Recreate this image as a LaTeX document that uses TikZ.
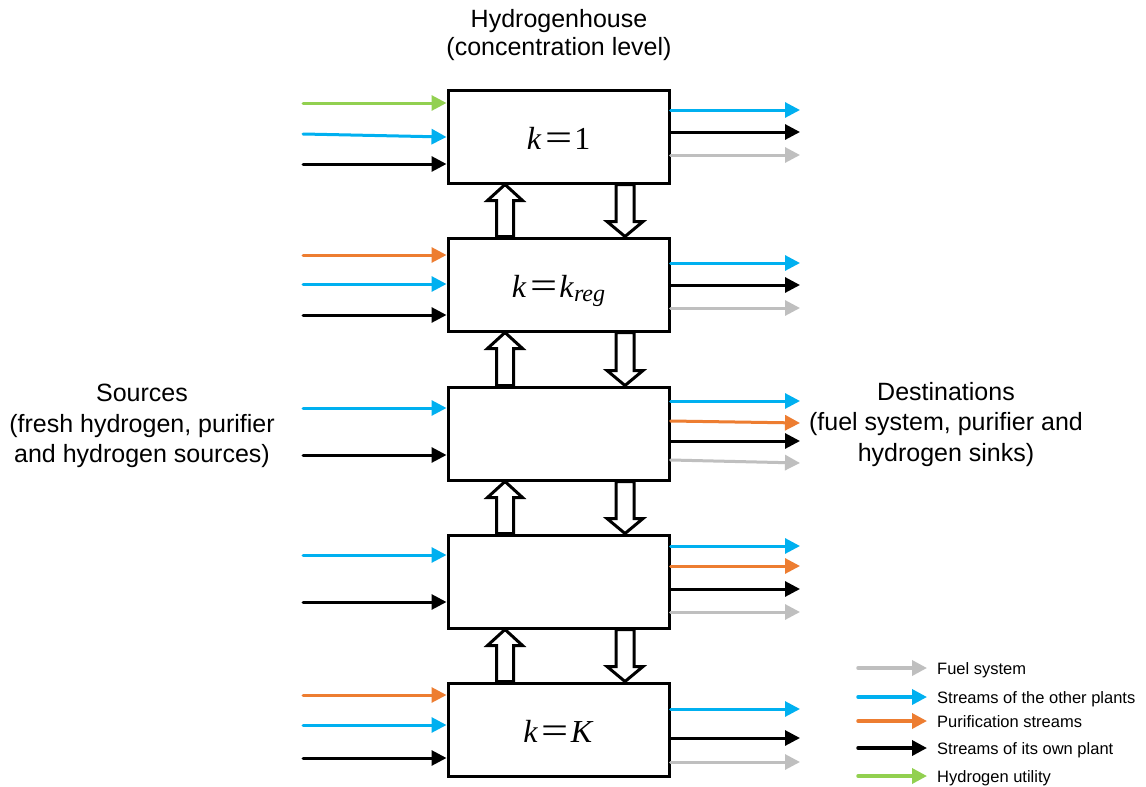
\documentclass[tikz,border=0pt]{standalone}
\usepackage{fontspec}
\usepackage{graphicx}
\setmainfont{Liberation Sans}
\newfontfamily\tnr{Liberation Serif}
\usetikzlibrary{arrows.meta,calc}

\definecolor{hutil}{RGB}{146,208,80}
\definecolor{hother}{RGB}{0,176,240}
\definecolor{hpur}{RGB}{237,125,49}
\definecolor{hfuel}{RGB}{191,191,191}

% incoming stream: colour, level box, y at the source, y at the box
\newcommand\instream[4]{%
  \coordinate (src-#2-#3) at (303,#3);
  \draw[stream,#1] (src-#2-#3) -- (#2.west |- 0,#4);}
% outgoing stream: colour, level box, y at the box, y at the end
\newcommand\outstream[4]{%
  \coordinate (dst-#2-#4) at (800,#4);
  \draw[stream,#1] (#2.east |- 0,#3) -- (dst-#2-#4);}
% hollow transfer arrow going up from the lower box #2 into the upper box #1
\newcommand\transup[2]{%
  \draw[hollow] ($(#1.south)+(-53.5,0)$) -- ($(#1.south)+(-36,16)$)
    -- ($(#1.south)+(-45,16)$) -- ($(#2.north)+(-45,0)$)
    -- ($(#2.north)+(-62,0)$) -- ($(#1.south)+(-62,16)$)
    -- ($(#1.south)+(-71,16)$) -- cycle;}
% hollow transfer arrow going down from the upper box #1 into the lower box #2
\newcommand\transdown[2]{%
  \draw[hollow] ($(#1.south)+(57.5,0)$) -- ($(#1.south)+(75.5,0)$)
    -- ($(#2.north)+(75.5,-15)$) -- ($(#2.north)+(84.5,-15)$)
    -- ($(#2.north)+(66.5,0)$) -- ($(#2.north)+(48.5,-15)$)
    -- ($(#2.north)+(57.5,-15)$) -- cycle;}
% "k =" set like an equation: italic k and a wide equals sign
\newcommand\kk{\textit{k}\hspace{.12em}\raisebox{-1.5pt}{\scalebox{1.5}[1.2]{=}}\hspace{.06em}}

\begin{document}
\begin{tikzpicture}[x=1pt,y=-1pt,
  level/.style={draw,line width=3pt,minimum width=221pt,minimum height=93pt,
    inner sep=0pt,text height=25pt,text depth=0pt,
    font=\tnr\fontsize{32}{32}\selectfont},
  stream/.style={line width=3pt,line cap=round,-{Triangle[length=15pt,width=15pt]}},
  keystream/.style={line width=3.5pt,line cap=round,shorten >=10pt,
    -{Triangle[length=15pt,width=15pt]}},
  hollow/.style={draw=black,fill=white,line width=3pt,line join=miter},
  sidetext/.style={align=center,inner sep=0pt,anchor=north},
  legendtext/.style={anchor=base west,inner sep=0pt,font=\fontsize{16.5}{18}\selectfont}
]
\useasboundingbox[fill=white] (0,0) rectangle (1146,787);

% concentration levels
\node[level] (b1) at (558.5,136.5) {\kk 1};
\node[level] (b2) at (558.5,284.5) {\kk\textit{k}\raisebox{-4pt}{\fontsize{24}{24}\selectfont\textit{reg}}};
\node[level] (b3) at (558.5,433.5) {};
\node[level] (b4) at (558.5,581.5) {};
\node[level] (b5) at (558.5,729.5) {\kk\textit{K}};

% hydrogen transfers between neighbouring levels
\transup{b1}{b2}\transdown{b1}{b2}
\transup{b2}{b3}\transdown{b2}{b3}
\transup{b3}{b4}\transdown{b3}{b4}
\transup{b4}{b5}\transdown{b4}{b5}

% sources
\instream{hutil}{b1}{103}{103}
\instream{hother}{b1}{134}{137}
\instream{black}{b1}{164}{164}
\instream{hpur}{b2}{255}{255}
\instream{hother}{b2}{284}{284}
\instream{black}{b2}{315}{315}
\instream{hother}{b3}{408}{408}
\instream{black}{b3}{455}{455}
\instream{hother}{b4}{555}{555}
\instream{black}{b4}{602}{602}
\instream{hpur}{b5}{695}{695}
\instream{hother}{b5}{725}{725}
\instream{black}{b5}{758}{758}

% destinations
\outstream{hother}{b1}{110}{110}
\outstream{black}{b1}{132}{132}
\outstream{hfuel}{b1}{155}{155}
\outstream{hother}{b2}{263}{263}
\outstream{black}{b2}{285}{285}
\outstream{hfuel}{b2}{308}{308}
\outstream{hother}{b3}{401}{401}
\outstream{hpur}{b3}{421}{423}
\outstream{black}{b3}{441}{441}
\outstream{hfuel}{b3}{460}{463}
\outstream{hother}{b4}{546}{546}
\outstream{hpur}{b4}{566}{566}
\outstream{black}{b4}{589}{589}
\outstream{hfuel}{b4}{612}{612}
\outstream{hother}{b5}{709}{709}
\outstream{black}{b5}{738}{738}
\outstream{hfuel}{b5}{762}{762}

% headings
\node[sidetext,font=\fontsize{25}{28}\selectfont] (head) at (559,9)
  {Hydrogenhouse\\(concentration level)};
\node[sidetext,font=\fontsize{25}{30.5}\selectfont] (srcs) at (142,384)
  {Sources\\(fresh hydrogen, purifier\\and hydrogen sources)};
\node[sidetext,font=\fontsize{25}{30.5}\selectfont] (dsts) at (946,382)
  {Destinations\\(fuel system, purifier and\\hydrogen sinks)};

% legend
\coordinate (k1) at (858,668);
\coordinate (k2) at (858,697);
\coordinate (k3) at (858,721);
\coordinate (k4) at (858,748);
\coordinate (k5) at (858,776);
\node[legendtext] (t1) at (937,674) {Fuel system};
\node[legendtext] (t2) at (937,703) {Streams of the other plants};
\node[legendtext] (t3) at (937,727) {Purification streams};
\node[legendtext] (t4) at (937,754) {Streams of its own plant};
\node[legendtext] (t5) at (937,782) {Hydrogen utility};
\draw[keystream,hfuel] (k1) -- (t1.west |- k1);
\draw[keystream,hother] (k2) -- (t2.west |- k2);
\draw[keystream,hpur] (k3) -- (t3.west |- k3);
\draw[keystream,black] (k4) -- (t4.west |- k4);
\draw[keystream,hutil] (k5) -- (t5.west |- k5);
\end{tikzpicture}
\end{document}
